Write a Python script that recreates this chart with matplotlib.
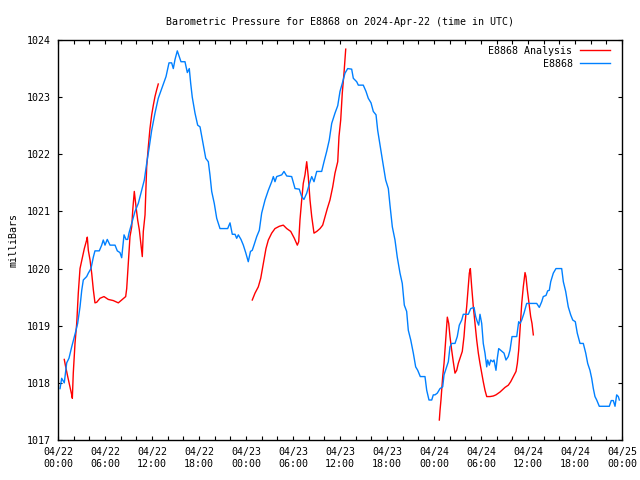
import numpy as np
import matplotlib
matplotlib.use("Agg")
import matplotlib.pyplot as plt

plt.rcParams['font.family'] = 'DejaVu Sans Mono'

# station observations (hours since 2024-04-22 00:00 UTC, mbar)
obs_hours = [0.26, 0.47, 0.80, 1.11, 1.40, 1.75, 2.04, 2.30, 2.51, 2.81, 3.03, 3.23, 3.66, 3.87,
             4.21, 4.51, 4.72, 5.27, 5.58, 5.78, 6.00, 6.29, 6.64, 7.28, 7.57, 7.91, 8.13, 8.43,
             8.68, 8.90, 9.06, 9.41, 9.83, 10.25, 10.69, 11.02, 11.32, 11.62, 11.96, 12.38, 12.80,
             13.24, 13.79, 14.17, 14.51, 14.72, 14.94, 15.23, 15.70, 16.21, 16.51, 16.76, 16.94,
             17.14, 17.49, 17.83, 18.13, 18.55, 18.86, 19.19, 19.40, 19.62, 19.95, 20.26, 20.68,
             21.66, 21.96, 22.25, 22.60, 22.81, 23.02, 23.36, 23.66, 23.96, 24.29, 24.57, 24.80,
             25.02, 25.37, 25.70, 26.00, 26.43, 26.85, 27.28, 27.49, 27.70, 27.92, 28.56, 28.85,
             29.20, 29.83, 30.26, 30.80, 31.11, 31.40, 31.75, 32.17, 32.39, 32.68, 33.03, 33.66,
             33.96, 34.30, 34.63, 34.94, 35.36, 35.71, 36.00, 36.29, 36.64, 36.98, 37.49, 37.70,
             38.13, 38.34, 38.97, 39.32, 39.61, 39.96, 40.25, 40.60, 40.81, 41.11, 41.45, 41.83,
             42.17, 42.38, 42.68, 43.02, 43.31, 43.66, 43.95, 44.21, 44.51, 44.72, 45.03, 45.36,
             45.66, 45.92, 46.25, 46.85, 47.07, 47.36, 47.71, 47.91, 48.13, 48.42, 48.77, 49.11,
             49.28, 49.62, 49.83, 50.04, 50.26, 50.68, 50.97, 51.23, 51.54, 51.74, 52.38, 52.69,
             53.11, 53.32, 53.53, 53.71, 53.87, 54.09, 54.29, 54.51, 54.73, 54.85, 55.06, 55.24,
             55.49, 55.66, 55.79, 55.91, 56.08, 56.26, 56.52, 56.94, 57.19, 57.48, 57.70, 57.96,
             58.56, 58.81, 58.98, 59.20, 59.49, 59.83, 61.11, 61.44, 61.75, 61.95, 62.30, 62.51,
             62.72, 62.90, 63.23, 63.57, 64.30, 64.51, 64.81, 65.14, 65.45, 65.71, 66.04, 66.29,
             66.64, 67.06, 67.37, 67.62, 67.91, 68.13, 68.34, 68.55, 68.77, 69.10, 70.38, 70.63,
             70.89, 71.11, 71.32, 71.53, 71.66]
obs_mbar = [1017.90, 1018.08, 1018.00, 1018.35, 1018.43, 1018.63, 1018.78, 1018.92, 1019.04,
            1019.33, 1019.62, 1019.80, 1019.86, 1019.92, 1020.00, 1020.20, 1020.31, 1020.31,
            1020.41, 1020.50, 1020.41, 1020.51, 1020.41, 1020.41, 1020.31, 1020.28, 1020.19,
            1020.59, 1020.51, 1020.51, 1020.62, 1020.79, 1021.00, 1021.14, 1021.37, 1021.55,
            1021.84, 1022.10, 1022.42, 1022.72, 1022.98, 1023.15, 1023.36, 1023.60, 1023.60,
            1023.50, 1023.66, 1023.81, 1023.62, 1023.62, 1023.43, 1023.50, 1023.24, 1023.00,
            1022.72, 1022.51, 1022.48, 1022.16, 1021.93, 1021.87, 1021.64, 1021.35, 1021.14,
            1020.88, 1020.70, 1020.70, 1020.80, 1020.60, 1020.60, 1020.53, 1020.59, 1020.51,
            1020.41, 1020.28, 1020.12, 1020.30, 1020.32, 1020.41, 1020.56, 1020.67, 1020.97,
            1021.20, 1021.37, 1021.52, 1021.61, 1021.52, 1021.61, 1021.64, 1021.70, 1021.62,
            1021.61, 1021.40, 1021.39, 1021.26, 1021.21, 1021.32, 1021.52, 1021.61, 1021.52,
            1021.70, 1021.70, 1021.87, 1022.05, 1022.25, 1022.54, 1022.72, 1022.85, 1023.10,
            1023.24, 1023.42, 1023.50, 1023.49, 1023.33, 1023.27, 1023.21, 1023.21, 1023.10,
            1022.98, 1022.90, 1022.75, 1022.69, 1022.42, 1022.16, 1021.87, 1021.55, 1021.40,
            1021.11, 1020.73, 1020.50, 1020.20, 1019.92, 1019.74, 1019.36, 1019.25, 1018.92,
            1018.75, 1018.52, 1018.28, 1018.22, 1018.11, 1018.11, 1017.87, 1017.70, 1017.70,
            1017.79, 1017.79, 1017.82, 1017.90, 1017.93, 1018.14, 1018.28, 1018.37, 1018.63,
            1018.69, 1018.69, 1018.81, 1019.01, 1019.10, 1019.20, 1019.20, 1019.30, 1019.32,
            1019.16, 1019.07, 1019.01, 1019.20, 1019.04, 1018.69, 1018.52, 1018.28, 1018.40,
            1018.31, 1018.40, 1018.37, 1018.40, 1018.31, 1018.22, 1018.43, 1018.60, 1018.57,
            1018.52, 1018.40, 1018.46, 1018.57, 1018.81, 1018.81, 1019.07, 1019.04, 1019.10,
            1019.22, 1019.39, 1019.39, 1019.32, 1019.42, 1019.51, 1019.53, 1019.61, 1019.62,
            1019.77, 1019.92, 1020.00, 1020.00, 1019.77, 1019.60, 1019.33, 1019.19, 1019.10,
            1019.07, 1018.87, 1018.69, 1018.69, 1018.52, 1018.34, 1018.22, 1018.08, 1017.90,
            1017.76, 1017.70, 1017.59, 1017.59, 1017.69, 1017.69, 1017.59, 1017.79, 1017.76,
            1017.70]

# analysis, three separate runs
ana1_hours = [0.80, 0.98, 1.24, 1.53, 1.75, 1.83, 1.95, 2.17, 2.39, 2.59, 2.81, 3.10, 3.36, 3.66,
              3.74, 3.87, 4.09, 4.30, 4.51, 4.72, 4.94, 5.36, 5.87, 6.42, 7.06, 7.70, 8.13, 8.64,
              8.77, 8.97, 9.19, 9.41, 9.54, 9.74, 9.96, 10.17, 10.38, 10.60, 10.76, 10.89, 11.11,
              11.32, 11.53, 11.74, 11.96, 12.17, 12.38, 12.60, 12.80]
ana1_mbar = [1018.41, 1018.28, 1018.11, 1017.93, 1017.79, 1017.73, 1018.17, 1018.69, 1019.04,
             1019.57, 1020.00, 1020.18, 1020.35, 1020.50, 1020.55, 1020.32, 1020.15, 1019.92,
             1019.63, 1019.40, 1019.41, 1019.48, 1019.51, 1019.46, 1019.44, 1019.40, 1019.45,
             1019.51, 1019.65, 1020.09, 1020.56, 1020.73, 1021.02, 1021.35, 1021.08, 1020.85,
             1020.68, 1020.41, 1020.21, 1020.65, 1020.94, 1021.78, 1022.13, 1022.45, 1022.69,
             1022.86, 1023.01, 1023.13, 1023.23]
ana2_hours = [24.80, 25.15, 25.57, 25.88, 26.21, 26.55, 26.85, 27.28, 27.70, 28.25, 28.76, 29.20,
              29.71, 30.17, 30.55, 30.73, 30.89, 31.11, 31.31, 31.53, 31.75, 31.95, 32.17, 32.39,
              32.68, 33.03, 33.45, 33.79, 34.09, 34.38, 34.72, 35.07, 35.36, 35.71, 35.87, 36.09,
              36.29, 36.51, 36.64, 36.73]
ana2_mbar = [1019.45, 1019.57, 1019.68, 1019.83, 1020.09, 1020.35, 1020.50, 1020.62, 1020.70,
             1020.74, 1020.76, 1020.70, 1020.65, 1020.53, 1020.41, 1020.47, 1020.85, 1021.20,
             1021.49, 1021.64, 1021.87, 1021.61, 1021.20, 1020.91, 1020.62, 1020.65, 1020.70,
             1020.76, 1020.91, 1021.05, 1021.20, 1021.43, 1021.67, 1021.87, 1022.31, 1022.60,
             1023.07, 1023.42, 1023.68, 1023.84]
ana3_hours = [48.68, 48.77, 48.89, 49.02, 49.11, 49.28, 49.40, 49.53, 49.70, 49.88, 50.04, 50.26,
              50.46, 50.68, 50.90, 51.10, 51.32, 51.61, 51.83, 51.96, 52.17, 52.38, 52.51, 52.64,
              52.81, 53.02, 53.23, 53.45, 53.66, 53.87, 54.09, 54.29, 54.51, 54.73, 55.15, 55.57,
              55.91, 56.43, 57.06, 57.49, 57.79, 58.13, 58.47, 58.64, 58.81, 58.98, 59.20, 59.40,
              59.62, 59.74, 59.91, 60.13, 60.34, 60.51, 60.68]
ana3_mbar = [1017.35, 1017.52, 1017.70, 1017.93, 1018.11, 1018.34, 1018.57, 1018.84, 1019.15,
             1019.04, 1018.81, 1018.57, 1018.37, 1018.17, 1018.22, 1018.34, 1018.43, 1018.55,
             1018.81, 1019.04, 1019.33, 1019.68, 1019.92, 1020.00, 1019.68, 1019.33, 1019.04,
             1018.75, 1018.52, 1018.34, 1018.17, 1018.02, 1017.87, 1017.76, 1017.76, 1017.77,
             1017.79, 1017.84, 1017.92, 1017.96, 1018.02, 1018.11, 1018.20, 1018.34, 1018.57,
             1018.92, 1019.39, 1019.68, 1019.93, 1019.86, 1019.63, 1019.39, 1019.16, 1019.04,
             1018.84]

tick_hours = [0, 6, 12, 18, 24, 30, 36, 42, 48, 54, 60, 66, 72]
tick_labels = ['04/22\n00:00', '04/22\n06:00', '04/22\n12:00', '04/22\n18:00',
               '04/23\n00:00', '04/23\n06:00', '04/23\n12:00', '04/23\n18:00',
               '04/24\n00:00', '04/24\n06:00', '04/24\n12:00', '04/24\n18:00',
               '04/25\n00:00']

# join analysis runs with gaps
ana_hours = ana1_hours + [np.nan] + ana2_hours + [np.nan] + ana3_hours
ana_mbar = ana1_mbar + [np.nan] + ana2_mbar + [np.nan] + ana3_mbar

fig = plt.figure(figsize=(6.4, 4.8), dpi=100)
ax = fig.add_axes([58 / 640, 40 / 480, 564 / 640, 400 / 480])

ax.plot(ana_hours, ana_mbar, color='#ff0000', lw=1, label='E8868 Analysis')
ax.plot(obs_hours, obs_mbar, color='#0080ff', lw=1, label='E8868')

ax.set_xlim(0, 72)
ax.set_ylim(1017, 1024)
ax.set_xticks(tick_hours)
ax.set_xticklabels(tick_labels)
ax.set_xticks(np.arange(0, 73, 2), minor=True)
ax.set_yticks(np.arange(1017, 1025, 1))
ax.tick_params(which='both', direction='in', length=3, width=0.8, labelsize=7.2,
               top=True, right=True, pad=5, color='black')
for s in ax.spines.values():
    s.set_linewidth(1)

ax.set_ylabel('milliBars', fontsize=7.2, labelpad=6)
ax.set_title('Barometric Pressure for E8868 on 2024-Apr-22 (time in UTC)',
             fontsize=7.2, pad=11)

ax.legend(loc='upper right', bbox_to_anchor=(552 / 564, 394 / 400), frameon=False,
          markerfirst=False, fontsize=7.2, handlelength=3.0, handletextpad=0.75,
          labelspacing=0.3, borderaxespad=0, borderpad=0)

fig.savefig('out.png', dpi=100)
